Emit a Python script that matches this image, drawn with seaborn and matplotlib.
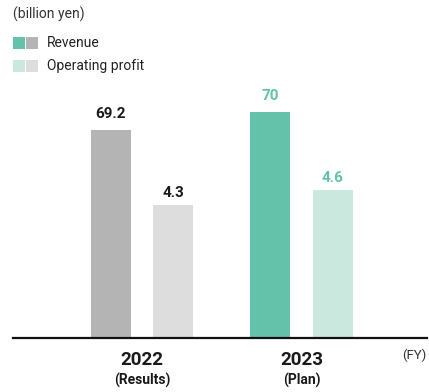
import matplotlib
matplotlib.use("Agg")
import matplotlib.pyplot as plt
from matplotlib.patches import Rectangle
from matplotlib.transforms import blended_transform_factory
import pandas as pd
import seaborn as sns

# Data (billion yen)
years = ["2022", "2023"]
year_notes = ["(Results)", "(Plan)"]
metrics = ["Revenue", "Operating profit"]
revenue = [69.2, 70]
operating_profit = [4.3, 4.6]

# Colours: results in grey, plan in green
revenue_colors = ["#b3b4b3", "#64c1aa"]
profit_colors = ["#dcdddc", "#cbe8de"]
label_colors = ["#1a1a1a", "#64c1aa"]

sns.set_theme(style="white")
plt.rcParams["font.family"] = ["Roboto", "DejaVu Sans"]

rev_df = pd.DataFrame({"year": years, "metric": metrics[0], "value": revenue})
op_df = pd.DataFrame({"year": years, "metric": metrics[1], "value": operating_profit})

W, H = 429, 392
fig = plt.figure(figsize=(W / 100, H / 100), dpi=100)
ax = fig.add_axes([13 / W, (H - 337.5) / H, (427 - 13) / W, 257.5 / H])
ax2 = ax.twinx()

common = dict(x="year", y="value", hue="metric", hue_order=metrics,
              order=years, dodge=True, width=0.78, gap=0.355,
              legend=False, errorbar=None, saturation=1)
sns.barplot(data=rev_df, ax=ax, **common)
sns.barplot(data=op_df, ax=ax2, **common)

for p, c in zip(ax.patches, revenue_colors):
    p.set_facecolor(c)
    p.set_edgecolor("none")
for p, c in zip(ax2.patches, profit_colors):
    p.set_facecolor(c)
    p.set_edgecolor("none")

# Separate value scales for each series
ax.set_ylim(60, 60 + 257.5 / 22.6)
ax2.set_ylim(1.65, 1.65 + 257.5 / 50)
for a in (ax, ax2):
    a.set_xlim(-0.809, 1.787)
    a.set_yticks([])
    a.set_ylabel("")
    a.set_xlabel("")
    a.set_xticks([])
    for s in a.spines.values():
        s.set_visible(False)
# Baseline drawn on the upper axes so it sits over every bar
ax2.spines["bottom"].set_visible(True)
ax2.spines["bottom"].set_color("#111111")
ax2.spines["bottom"].set_linewidth(1.6)

# Value labels
for p, v, c in zip(ax.patches, revenue, label_colors):
    ax.annotate(f"{v:g}", xy=(p.get_x() + p.get_width() / 2, v),
                xytext=(0, 8.3), textcoords="offset points",
                ha="center", va="baseline", fontsize=11, fontweight="bold",
                color=c)
for p, v, c in zip(ax2.patches, operating_profit, label_colors):
    ax2.annotate(f"{v:g}", xy=(p.get_x() + p.get_width() / 2, v),
                 xytext=(0, 6), textcoords="offset points",
                 ha="center", va="baseline", fontsize=11, fontweight="bold",
                 color=c)

# Category labels under the axis
trans = blended_transform_factory(ax.transData, ax.transAxes)
for i, (y, note) in enumerate(zip(years, year_notes)):
    ax.text(i, -0.087, y, transform=trans, ha="center", va="center",
            fontsize=13.5, fontweight="bold", color="#1a1a1a")
    ax.text(i, -0.165, note, transform=trans, ha="center", va="center",
            fontsize=10, fontweight="bold", color="#1a1a1a")
fig.text(414 / W, 1 - 355 / H, "(FY)", ha="center", va="center",
         fontsize=9.5, color="#333333")

# Unit and legend
fig.text(13 / W, 1 - 14 / H, "(billion yen)", ha="left", va="center",
         fontsize=10, color="#333333")
legend_rows = [(metrics[0], 37, revenue_colors), (metrics[1], 60, profit_colors)]
for name, top, cols in legend_rows:
    for k, col in enumerate(cols[::-1]):
        fig.add_artist(Rectangle(((13 + 13 * k) / W, 1 - (top + 12) / H),
                                 12 / W, 12 / H, transform=fig.transFigure,
                                 facecolor=col, edgecolor="none"))
    fig.text(47 / W, 1 - (top + 6) / H, name, ha="left", va="center",
             fontsize=10, color="#222222")

fig.savefig("out.png", dpi=100)
